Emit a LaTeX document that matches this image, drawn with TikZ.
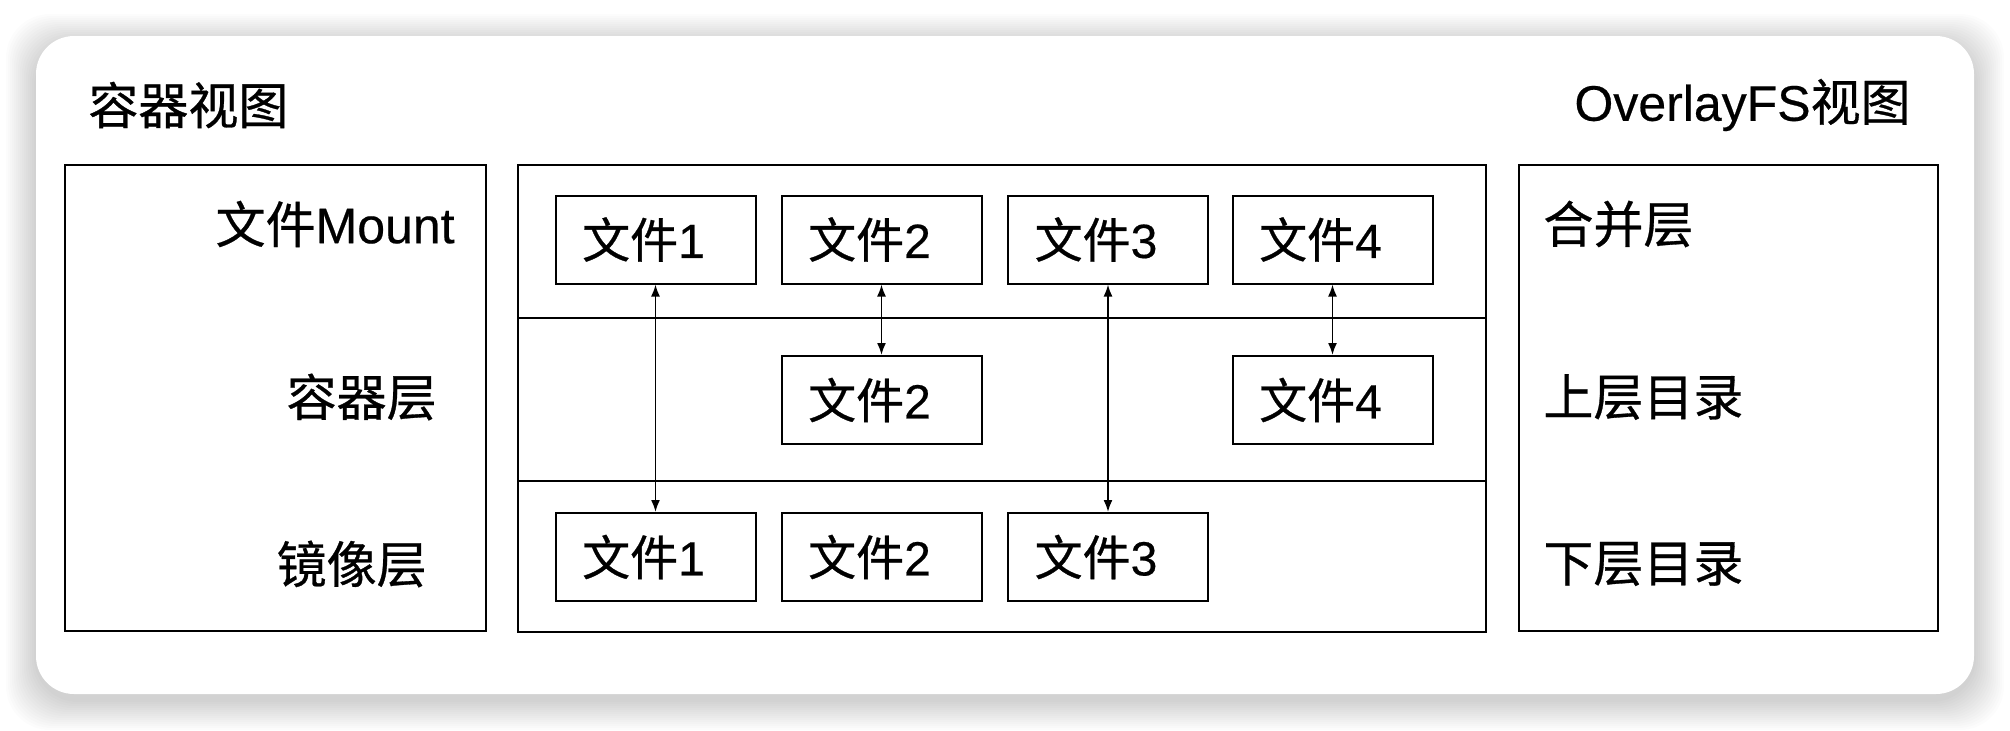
\documentclass[tikz,border=0pt]{standalone}
\usepackage{fontspec}
\setmainfont[FakeBold=0.4]{Liberation Sans}
\newfontfamily\cjk[FakeBold=0.6]{Noto Sans CJK SC}
\usetikzlibrary{arrows.meta}

\newcommand{\wj}[1]{{\cjk 文件}#1\kern12pt\relax}

\begin{document}
\begin{tikzpicture}[
        x=0.5pt, y=-0.5pt,
        panel/.style={draw, line width=1pt, inner sep=0pt},
        file/.style={draw, line width=1pt, minimum width=100pt, minimum height=44pt, inner sep=0pt, font=\fontsize{24}{24}\selectfont},
        lbl/.style={font=\fontsize{25}{25}\selectfont, inner sep=0pt},
        link/.style={<->, >={Latex[length=6pt, width=4.5pt]}, line width=0.9pt}
    ]
        \useasboundingbox (0,0) rectangle (2010,730);
        \fill[white] (0,0) rectangle (2010,730);
        % card with soft shadow
        \foreach \s in {2,4,...,30}
            \fill[black, opacity=0.013, rounded corners=22pt] ({36-\s},{44-\s}) rectangle ({1974+\s},{700+\s});
        \fill[white, rounded corners=19pt] (36,36) rectangle (1974,694);

        \node[lbl, anchor=west] (ctitle) at (88,105) {\cjk 容器视图};
        \node[lbl, anchor=east] (otitle) at (1911,105) {OverlayFS{\cjk 视图}};

        \node[panel, minimum width=210.5pt, minimum height=233pt] (cview) at (275.5,398) {};
        \node[panel, minimum width=484pt, minimum height=76.5pt] (merged) at (1002,241.5) {};
        \node[panel, minimum width=484pt, minimum height=81.5pt] (upper) at (1002,399.5) {};
        \node[panel, minimum width=484pt, minimum height=75.5pt] (lower) at (1002,556.5) {};
        \node[panel, minimum width=209.5pt, minimum height=233pt] (oview) at (1728.5,398) {};

        \node[lbl, anchor=east] (mnt) at (455,224) {{\cjk 文件}Mount};
        \node[lbl, anchor=east] (clayer) at (437,397) {\cjk 容器层};
        \node[lbl, anchor=east] (ilayer) at (427,564) {\cjk 镜像层};
        \node[lbl, anchor=west] (mlayer) at (1543,224) {\cjk 合并层};
        \node[lbl, anchor=west] (udir) at (1543,397) {\cjk 上层目录};
        \node[lbl, anchor=west] (ldir) at (1543,564) {\cjk 下层目录};

        \node[file] (t1) at (655.5,239.5) {\wj{1}};
        \node[file] (t2) at (881.5,239.5) {\wj{2}};
        \node[file] (t3) at (1108,239.5) {\wj{3}};
        \node[file] (t4) at (1332.5,239.5) {\wj{4}};
        \node[file] (u2) at (881.5,400) {\wj{2}};
        \node[file] (u4) at (1332.5,400) {\wj{4}};
        \node[file] (l1) at (655.5,557) {\wj{1}};
        \node[file] (l2) at (881.5,557) {\wj{2}};
        \node[file] (l3) at (1108,557) {\wj{3}};

        \draw[link] (t1) -- (l1);
        \draw[link] (t2) -- (u2);
        \draw[link] (t3) -- (l3);
        \draw[link] (t4) -- (u4);
    \end{tikzpicture}
\end{document}
